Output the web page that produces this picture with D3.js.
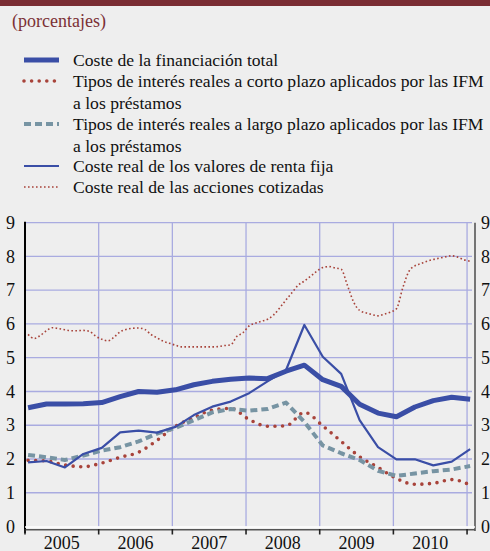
<!DOCTYPE html>
<html><head><meta charset="utf-8">
<script src="https://cdn.jsdelivr.net/npm/d3@7"></script>
<style>
html,body{margin:0;padding:0;background:#eeeeee;}
svg{display:block;}
text{font-family:"Liberation Serif","Times New Roman",serif;}
</style></head>
<body>
<svg id="c" width="490" height="551"></svg>
<script>
// ---- data ----
const title = "(porcentajes)";
const yearLabels = ["2005","2006","2007","2008","2009","2010"];
const yTicks = [0,1,2,3,4,5,6,7,8,9];
const seriesNames = [
  ["Coste de la financiación total"],
  ["Tipos de interés reales a corto plazo aplicados por las IFM","a los préstamos"],
  ["Tipos de interés reales a largo plazo aplicados por las IFM","a los préstamos"],
  ["Coste real de los valores de renta fija"],
  ["Coste real de las acciones cotizadas"]
];
// monthly categories Jan 2005 .. Jan 2011; quarterly observations Jan/Apr/Jul/Oct
const months = d3.timeMonth.range(new Date(2005,0,1), new Date(2011,1,1));
const quarters = months.filter((d,i)=> i%3===0);
const costeTotal = [3.52,3.63,3.63,3.64,3.67,3.85,4.00,3.98,4.05,4.20,4.30,4.36,4.40,4.38,4.60,4.78,4.35,4.15,3.62,3.36,3.25,3.54,3.73,3.83,3.77];
const tiposCorto = [1.96,1.94,1.82,1.77,1.88,2.05,2.20,2.55,2.97,3.22,3.45,3.50,3.17,2.97,2.98,3.38,2.98,2.52,2.07,1.75,1.42,1.25,1.28,1.39,1.23];
const tiposLargo = [2.12,2.05,1.97,2.10,2.25,2.35,2.52,2.75,2.92,3.15,3.38,3.48,3.43,3.48,3.67,3.10,2.40,2.17,1.97,1.65,1.50,1.57,1.64,1.69,1.79];
const rentaFija  = [1.90,1.94,1.75,2.15,2.33,2.79,2.84,2.78,2.95,3.30,3.55,3.70,3.95,4.30,4.63,5.97,5.03,4.52,3.15,2.35,1.99,1.99,1.81,1.92,2.29];
const acciones = [5.69,5.57,5.66,5.80,5.89,5.86,5.83,5.80,5.80,5.81,5.78,5.64,
 5.55,5.50,5.61,5.77,5.84,5.87,5.88,5.84,5.69,5.59,5.49,5.43,
 5.37,5.32,5.32,5.32,5.32,5.32,5.32,5.33,5.36,5.38,5.63,5.74,
 5.94,6.02,6.08,6.14,6.27,6.48,6.71,6.93,7.15,7.27,7.41,7.56,
 7.67,7.70,7.66,7.62,7.15,6.66,6.40,6.33,6.28,6.24,6.29,6.35,
 6.45,7.05,7.55,7.72,7.79,7.86,7.91,7.95,7.99,8.02,7.98,7.90,
 7.86];

// ---- styles ----
const blue = "#3a4ea6", red = "#a8433a", teal = "#7794a3", grid = "#a9abe0";
const styles = [
  {color: blue, width: 5, dash: null, cap: "butt"},
  {color: red, width: 3.6, dash: "0 7.6", cap: "round"},
  {color: teal, width: 4, dash: "7 4", cap: "butt"},
  {color: blue, width: 2.2, dash: null, cap: "butt"},
  {color: red, width: 1.6, dash: "1.6 2.4", cap: "butt"}
];

const svg = d3.select("#c");
svg.append("rect").attr("x",0).attr("y",0).attr("width",490).attr("height",6).attr("fill","#7a2d33");
svg.append("text").attr("x",12).attr("y",27).attr("font-size",18).attr("fill","#7b3035").text(title);

// legend
const legY = [60, 81, 124, 166, 187];
seriesNames.forEach((lines,k)=>{
  const yy = legY[k];
  const s = styles[k];
  svg.append("line").attr("x1",24).attr("x2",59).attr("y1",yy).attr("y2",yy)
    .attr("stroke",s.color).attr("stroke-width",s.width)
    .attr("stroke-dasharray",s.dash).attr("stroke-linecap",s.cap);
  lines.forEach((t,j)=>{
    svg.append("text").attr("x",73).attr("y",yy+6+j*21.5).attr("font-size",17.6).attr("fill","#111").text(t);
  });
});

// scales
const x = d3.scaleBand().domain(months).range([25, 473.2]).paddingInner(0).paddingOuter(0);
const bw = x.bandwidth();
const xc = d => x(d) + bw/2;
const y = d3.scaleLinear().domain([0,9]).range([526.5, 222.7]);
const yearStarts = months.filter(d=>d.getMonth()===0 && d.getFullYear()<=2010);
const yearBounds = months.filter(d=>d.getMonth()===0);

// gridlines
const g = svg.append("g");
g.selectAll("line.h").data(yTicks.filter(v=>v>0)).join("line")
  .attr("x1",25).attr("x2",472).attr("y1",d=>y(d)).attr("y2",d=>y(d))
  .attr("stroke",grid).attr("stroke-width",1.3);
g.selectAll("line.v").data(yearBounds.slice(1)).join("line")
  .attr("x1",d=>x(d)).attr("x2",d=>x(d)).attr("y1",y(9)).attr("y2",y(0))
  .attr("stroke",grid).attr("stroke-width",1.3);

// axes
const yAxisL = d3.axisLeft(y).tickValues(yTicks).tickSize(0).tickPadding(10);
const gl = svg.append("g").attr("transform","translate(25,0)").call(yAxisL);
gl.select(".domain").remove();
gl.selectAll("text").attr("font-size",18).attr("fill","#111").attr("font-family","Liberation Serif");
svg.append("line").attr("x1",25).attr("x2",25).attr("y1",y(9)-1).attr("y2",533).attr("stroke","#000").attr("stroke-width",2);

const yAxisR = d3.axisRight(y).tickValues(yTicks).tickSize(0).tickPadding(6);
const gr = svg.append("g").attr("transform","translate(475,0)").call(yAxisR);
gr.select(".domain").remove();
gr.selectAll("text").attr("font-size",18).attr("fill","#111").attr("font-family","Liberation Serif");
svg.append("line").attr("x1",475).attr("x2",475).attr("y1",y(9)).attr("y2",531).attr("stroke","#555").attr("stroke-width",1.6);

// bottom axis
svg.append("line").attr("x1",25).attr("x2",475).attr("y1",527).attr("y2",527).attr("stroke","#fff").attr("stroke-width",1.5);
svg.append("line").attr("x1",25).attr("x2",475).attr("y1",529.8).attr("y2",529.8).attr("stroke","#555").attr("stroke-width",1.6);
svg.selectAll("line.tk").data(yearBounds).join("line")
  .attr("x1",d=>x(d)).attr("x2",d=>x(d)).attr("y1",529).attr("y2",534.5)
  .attr("stroke","#222").attr("stroke-width",1.6);
svg.selectAll("text.yr").data(yearStarts).join("text")
  .attr("x",(d,i)=>x(d)+6*bw).attr("y",549).attr("text-anchor","middle")
  .attr("font-size",18).attr("fill","#111").text((d,i)=>yearLabels[i]);

// series
const lineGen = d3.line().x(d=>xc(d[0])).y(d=>y(d[1]));
const pair = (dates, vals) => dates.map((d,i)=>[d, vals[i]]);
const plot = (dates, vals, s, curve) => svg.append("path")
  .datum(pair(dates, vals))
  .attr("d", lineGen.curve(curve || d3.curveLinear))
  .attr("fill","none").attr("stroke",s.color).attr("stroke-width",s.width)
  .attr("stroke-dasharray",s.dash).attr("stroke-linecap",s.cap).attr("stroke-linejoin","round");

plot(months, acciones, styles[4], d3.curveMonotoneX);
plot(quarters, tiposCorto, styles[1], d3.curveMonotoneX);
plot(quarters, tiposLargo, styles[2]);
plot(quarters, rentaFija, styles[3]);
plot(quarters, costeTotal, styles[0]);
</script>
</body></html>
